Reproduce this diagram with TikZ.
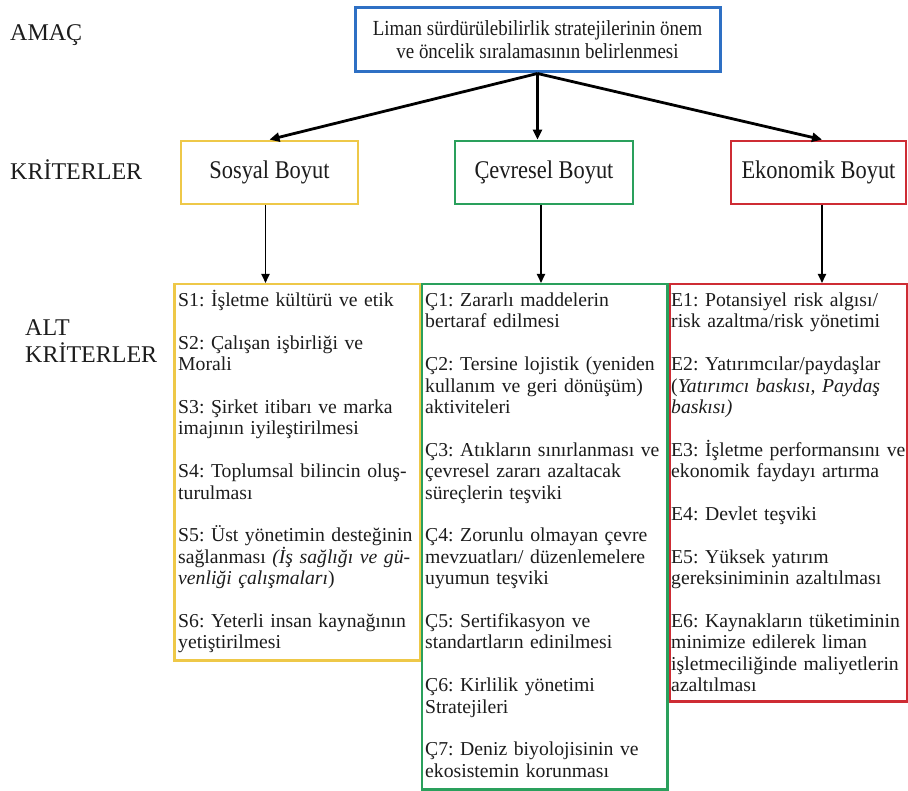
\documentclass[tikz,border=0pt]{standalone}
\usepackage{fontspec}
\setmainfont{Liberation Serif}
\newfontfamily\narrowfont[FakeStretch=0.88]{Liberation Serif}
\usetikzlibrary{arrows.meta}
\frenchspacing
\definecolor{cblue}{RGB}{46,112,196}
\definecolor{cyellow}{RGB}{238,200,72}
\definecolor{cgreen}{RGB}{42,160,92}
\definecolor{cred}{RGB}{206,44,52}
\definecolor{ctext}{RGB}{28,28,28}
\tikzset{
  goalbox/.style={draw=cblue, line width=3pt, minimum width=365, minimum height=64, align=center, text=ctext,
    font=\narrowfont\fontsize{21.5}{23}\selectfont},
  critbox/.style={line width=2.8pt, minimum height=63, text=ctext, font=\narrowfont\fontsize{25.5}{27}\selectfont},
  subbox/.style={line width=2.5pt, anchor=north west, inner sep=0pt},
  subtext/.style={anchor=base west, inner sep=0pt, align=left, text width=262, text=ctext,
    font=\fontsize{19.7}{21.4}\selectfont},
  lvl/.style={anchor=base west, inner sep=0pt, align=left, text=ctext, font=\fontsize{24}{27}\selectfont},
  bigarrow/.style={line width=2.8pt, -{Triangle[length=10pt,width=9pt]}},
  smallarrow/.style={line width=1.8pt, -{Triangle[length=9pt,width=8pt]}}
}
\begin{document}
\begin{tikzpicture}[x=1pt,y=-1pt]
\useasboundingbox[fill=white] (0,0) rectangle (908,791);
% level labels
\node[lvl] (lamac) at (10,41) {AMAÇ};
\node[lvl] (lkrit) at (10,180) {KRİTERLER};
\node[lvl] (lalt) at (25,363) {ALT\\KRİTERLER};
% goal
\node[goalbox] (goal) at (537.5,40) {Liman sürdürülebilirlik stratejilerinin önem\\ve öncelik sıralamasının belirlenmesi};
% criteria
\node[critbox, draw=cyellow, minimum width=177] (sos) at (269.5,172.5) {Sosyal Boyut};
\node[critbox, draw=cgreen, minimum width=178] (cev) at (544,172.5) {Çevresel Boyut};
\node[critbox, draw=cred, minimum width=175] (eko) at (818.5,172.5) {Ekonomik Boyut};
% sub-criteria boxes
\node[subbox, draw=cyellow, minimum width=245.5, minimum height=376] (sbox) at (173,283) {};
\node[subbox, draw=cgreen, minimum width=245.5, minimum height=505] (cbox) at (420.5,283) {};
\node[subbox, draw=cred, minimum width=237.5, minimum height=417] (ebox) at (668.5,283) {};
% arrows
\draw[bigarrow] (goal.south) -- (sos.north);
\draw[bigarrow] (goal.south) -- (goal.south |- cev.north);
\draw[bigarrow] (goal.south) -- ([xshift=3.5pt]eko.north);
\draw[smallarrow] ([xshift=-4pt]sos.south) -- ([xshift=-4pt]sos.south |- sbox.north);
\draw[smallarrow] ([xshift=-3pt]cev.south) -- ([xshift=-3pt]cev.south |- cbox.north);
\draw[smallarrow] ([xshift=3.5pt]eko.south) -- ([xshift=3.5pt]eko.south |- ebox.north);
% sub-criteria texts
\node[subtext] (stext) at (178,306.5) {S1: İşletme kültürü ve etik\\[21.4pt]
S2: Çalışan işbirliği ve\\Morali\\[21.4pt]
S3: Şirket itibarı ve marka\\imajının iyileştirilmesi\\[21.4pt]
S4: Toplumsal bilincin oluş-\\turulması\\[21.4pt]
S5: Üst yönetimin desteğinin\\sağlanması \textit{(İş sağlığı ve gü-}\\\textit{venliği çalışmaları})\\[21.4pt]
S6: Yeterli insan kaynağının\\yetiştirilmesi};
\node[subtext] (ctext) at (425,306.5) {Ç1: Zararlı maddelerin\\bertaraf edilmesi\\[21.4pt]
Ç2: Tersine lojistik (yeniden\\kullanım ve geri dönüşüm)\\aktiviteleri\\[21.4pt]
Ç3: Atıkların sınırlanması ve\\çevresel zararı azaltacak\\süreçlerin teşviki\\[21.4pt]
Ç4: Zorunlu olmayan çevre\\mevzuatları/ düzenlemelere\\uyumun teşviki\\[21.4pt]
Ç5: Sertifikasyon ve\\standartların edinilmesi\\[21.4pt]
Ç6: Kirlilik yönetimi\\Stratejileri\\[21.4pt]
Ç7: Deniz biyolojisinin ve\\ekosistemin korunması};
\node[subtext] (etext) at (671,306.5) {E1: Potansiyel risk algısı/\\risk azaltma/risk yönetimi\\[21.4pt]
E2: Yatırımcılar/paydaşlar\\(\textit{Yatırımcı baskısı, Paydaş}\\\textit{baskısı)}\\[21.4pt]
E3: İşletme performansını ve\\ekonomik faydayı artırma\\[21.4pt]
E4: Devlet teşviki\\[21.4pt]
E5: Yüksek yatırım\\gereksiniminin azaltılması\\[21.4pt]
E6: Kaynakların tüketiminin\\minimize edilerek liman\\işletmeciliğinde maliyetlerin\\azaltılması};
\end{tikzpicture}
\end{document}
